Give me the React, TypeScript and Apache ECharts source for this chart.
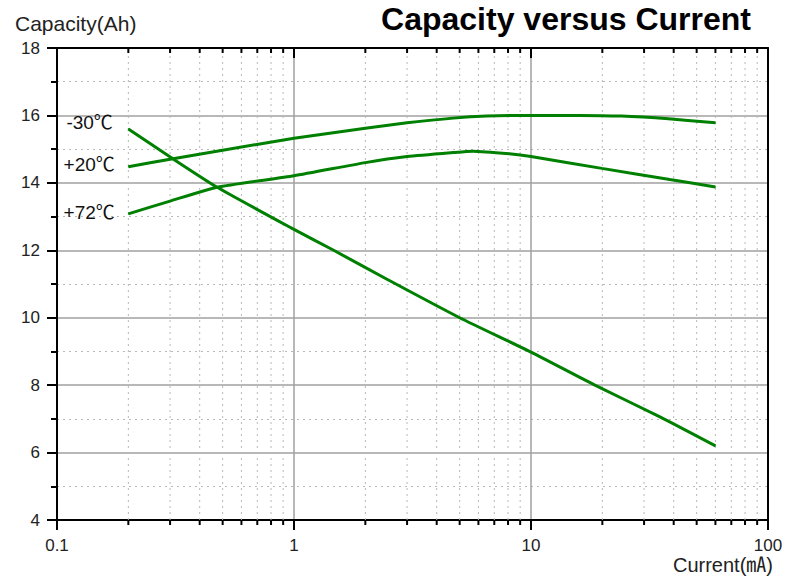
import React, { useEffect, useRef } from "react";
import * as echarts from "echarts";

const FONT = '"Liberation Sans", Arial, "Noto Sans CJK SC", sans-serif';

const xMin = 0.1;
const xMax = 100;
const yMin = 4;
const yMax = 18;

const seriesNames = ["-30℃", "+20℃", "+72℃"];

const currentM30 = [0.2, 0.306, 0.474, 1, 1.47, 2.5, 5, 10, 18.6, 35, 60];
const capacityM30 = [15.6, 14.73, 13.87, 12.62, 12, 11.12, 10, 8.98, 8, 7.06, 6.2];

const currentP20 = [0.2, 0.3, 0.5, 1, 2, 3, 4.7, 6.5, 10, 16, 24, 38, 60];
const capacityP20 = [14.48, 14.7, 14.97, 15.32, 15.62, 15.78, 15.92, 15.98, 16, 16, 15.98, 15.9, 15.78];

const currentP72 = [0.2, 0.3, 0.474, 1, 2, 3, 4.7, 5.7, 8.1, 10, 19.9, 38.5, 60];
const capacityP72 = [13.08, 13.46, 13.87, 14.21, 14.6, 14.78, 14.9, 14.94, 14.86, 14.78, 14.43, 14.1, 13.88];

const xMinorTicks = [0.2, 0.3, 0.4, 0.5, 0.6, 0.7, 0.8, 0.9, 2, 3, 4, 5, 6, 7, 8, 9, 20, 30, 40, 50, 60, 70, 80, 90];

const titleText = "Capacity versus Current";
const yAxisName = "Capacity(Ah)";
const xAxisName = "Current(㎃)";

const labelOffsets = [[-2, -6], [0, -2], [0, -1]];

function makeSeries(name: string, xs: number[], ys: number[], idx: number) {
  return {
    type: "line",
    name,
    z: 5,
    smooth: 0.2,
    symbol: "circle",
    symbolSize: 1,
    showSymbol: true,
    itemStyle: { color: "#008000" },
    lineStyle: { color: "#008000", width: 3 },
    label: { show: false },
    data: xs.map((x, i) =>
      i === 0
        ? {
            value: [x, ys[i]],
            label: {
              show: true,
              position: "left",
              distance: 13,
              offset: labelOffsets[idx],
              formatter: name,
              color: "#111",
              fontSize: 19,
              fontFamily: FONT,
            },
          }
        : [x, ys[i]]
    ),
  };
}

export default function App() {
  const ref = useRef<HTMLDivElement>(null);
  useEffect(() => {
    if (!ref.current) return;
    const chart = echarts.init(ref.current, null, { renderer: "svg" });
    const axisLine = { show: true, onZero: false, lineStyle: { color: "#000", width: 2 } };
    chart.setOption({
      animation: false,
      backgroundColor: "#fff",
      grid: { left: 57, right: 32, top: 48, bottom: 60 },
      graphic: [
        {
          type: "text",
          x: 566,
          y: 19,
          style: {
            text: titleText,
            font: `bold 32px ${FONT}`,
            fill: "#000",
            textAlign: "center",
            verticalAlign: "middle",
          },
        },
        {
          type: "text",
          x: 15,
          y: 23,
          style: {
            text: yAxisName,
            font: `21px ${FONT}`,
            fill: "#222",
            textAlign: "left",
            verticalAlign: "middle",
          },
        },
        {
          type: "text",
          x: 773,
          y: 565,
          style: {
            text: xAxisName,
            font: `20px ${FONT}`,
            fill: "#222",
            textAlign: "right",
            verticalAlign: "middle",
          },
        },
      ],
      xAxis: [
        {
          type: "log",
          logBase: 10,
          min: xMin,
          max: xMax,
          position: "bottom",
          axisLine,
          axisTick: { show: true, inside: false, length: 10, lineStyle: { color: "#000", width: 2 } },
          axisLabel: {
            show: true,
            margin: 17,
            fontSize: 17,
            fontFamily: FONT,
            color: "#222",
            formatter: (v: number) => String(v),
          },
          splitLine: { show: true, lineStyle: { color: "#a0a0a0", width: 1.5 } },
        },
        {
          type: "log",
          logBase: 10,
          min: xMin,
          max: xMax,
          position: "top",
          axisLine,
          axisTick: { show: true, inside: true, length: 10, lineStyle: { color: "#000", width: 2 } },
          axisLabel: { show: false },
          splitLine: { show: false },
        },
      ],
      yAxis: [
        {
          type: "value",
          min: yMin,
          max: yMax,
          interval: 2,
          position: "left",
          axisLine,
          axisTick: { show: true, inside: false, length: 10, lineStyle: { color: "#000", width: 2 } },
          minorTick: { show: true, splitNumber: 2, length: 6, lineStyle: { color: "#000", width: 2 } },
          axisLabel: { margin: 17, fontSize: 17, fontFamily: FONT, color: "#222" },
          splitLine: { show: true, lineStyle: { color: "#a0a0a0", width: 1.5 } },
          minorSplitLine: { show: true, lineStyle: { color: "#b8b8b8", width: 1, type: [2, 4] } },
        },
        {
          type: "value",
          min: yMin,
          max: yMax,
          interval: 2,
          position: "right",
          axisLine,
          axisTick: { show: false },
          axisLabel: { show: false },
          splitLine: { show: false },
        },
      ],
      series: [
        {
          type: "custom",
          xAxisIndex: 0,
          yAxisIndex: 0,
          z: 1,
          silent: true,
          data: xMinorTicks.map((v) => [v, yMin]),
          encode: { x: 0, y: 1 },
          renderItem: (params: any, api: any) => {
            const x = api.value(0);
            const b = api.coord([x, yMin]);
            const t = api.coord([x, yMax]);
            return {
              type: "group",
              children: [
                {
                  type: "line",
                  shape: { x1: b[0], y1: b[1], x2: t[0], y2: t[1] },
                  style: { stroke: "#b8b8b8", lineWidth: 1, lineDash: [2, 4] },
                },
                {
                  type: "line",
                  shape: { x1: b[0], y1: b[1], x2: b[0], y2: b[1] + 5 },
                  style: { stroke: "#000", lineWidth: 2 },
                },
                {
                  type: "line",
                  shape: { x1: t[0], y1: t[1], x2: t[0], y2: t[1] + 5 },
                  style: { stroke: "#000", lineWidth: 2 },
                },
              ],
            };
          },
        },
        makeSeries(seriesNames[0], currentM30, capacityM30, 0),
        makeSeries(seriesNames[1], currentP20, capacityP20, 1),
        makeSeries(seriesNames[2], currentP72, capacityP72, 2),
      ],
    });
    return () => chart.dispose();
  }, []);
  return (
    <div
      ref={ref}
      style={{ position: "fixed", left: 0, top: 0, width: 800, height: 580, background: "#fff" }}
    />
  );
}
